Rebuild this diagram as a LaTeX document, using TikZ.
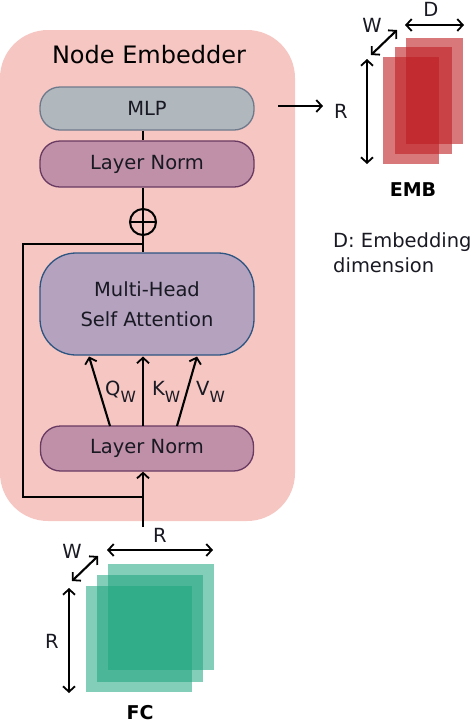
\documentclass[tikz,border=0pt]{standalone}
\usepackage{fontspec}
\setmainfont{DejaVu Sans}
\usetikzlibrary{arrows.meta}
\definecolor{pinkbg}{RGB}{246,198,194}
\definecolor{mlpfill}{RGB}{176,183,189}
\definecolor{mlpdraw}{RGB}{110,122,140}
\definecolor{lnfill}{RGB}{192,144,168}
\definecolor{lndraw}{RGB}{105,58,98}
\definecolor{attfill}{RGB}{180,162,190}
\definecolor{attdraw}{RGB}{45,85,130}
\definecolor{embred}{RGB}{190,30,35}
\definecolor{fcgreen}{RGB}{30,165,125}
\definecolor{txt}{RGB}{25,25,35}
\begin{document}
\begin{tikzpicture}[x=1pt,y=-1pt,
  lbl/.style={font=\fontsize{19.5}{23}\selectfont, text=txt, inner sep=0pt},
  box/.style={draw, line width=1.3pt, rounded corners=20pt, minimum width=214pt,
    font=\fontsize{19.5}{23}\selectfont, text=txt, inner sep=0pt},
  conn/.style={line width=2.1pt, black},
  arr/.style={conn, -{Straight Barb[length=5.5pt,width=12pt,line width=1.8pt]}},
  darr/.style={conn, {Straight Barb[length=5.5pt,width=12pt,line width=1.8pt]}-{Straight Barb[length=5.5pt,width=12pt,line width=1.8pt]}}]
\useasboundingbox (0,0) rectangle (474,724);

% background
\fill[pinkbg, rounded corners=48pt] (0,30) rectangle (295,521);
\node[font=\fontsize{24}{28}\selectfont, anchor=base, inner sep=0pt] (title) at (149,63) {Node Embedder};

% boxes
\node[box, fill=mlpfill, draw=mlpdraw, minimum height=43pt] (mlp) at (147,108.5) {MLP};
\node[box, fill=lnfill, draw=lndraw, minimum height=46pt] (ln1) at (147,164) {Layer Norm};
\node[box, fill=attfill, draw=attdraw, minimum height=102pt, rounded corners=36pt, align=center,
  font=\fontsize{19.5}{30}\selectfont] (mhsa) at (147,304) {Multi-Head\\Self Attention};
\node[box, fill=lnfill, draw=lndraw, minimum height=45pt, minimum width=213pt] (ln2) at (147,448.5) {Layer Norm};
\node[circle, draw, line width=2pt, minimum size=26pt, inner sep=0pt,
  path picture={\draw[line width=2pt] (path picture bounding box.west) -- (path picture bounding box.east);}] (plus) at (143,222) {};

% connectors
\draw[conn] (plus |- mlp.south) -- (plus |- ln1.north);
\draw[conn] (plus |- ln1.south) -- (plus.north);
\draw[conn] (plus.north) -- (plus.south);
\draw[conn] (plus.south) -- (plus |- mhsa.north);
\coordinate (in) at (143,527);
\coordinate (rb) at (143,497);
\coordinate (rt) at (143,244);
\draw[arr] (in) -- (plus |- ln2.south);
\draw[conn] (rb) -| (23,244) -- (rt);

% Q K V
\coordinate (q0) at (110,426); \coordinate (q1) at (89,356.5);
\coordinate (k0) at (143,426); \coordinate (k1) at (143,356.5);
\coordinate (v0) at (177,426); \coordinate (v1) at (197,356.5);
\draw[arr] (q0) -- (q1);
\draw[arr] (k0) -- (k1);
\draw[arr] (v0) -- (v1);
\node[lbl, anchor=west] (ql) at (105,392) {Q\raisebox{-0.35em}{\fontsize{15.5}{15}\selectfont W}};
\node[lbl, anchor=west] (kl) at (152,392) {K\raisebox{-0.35em}{\fontsize{15.5}{15}\selectfont W}};
\node[lbl, anchor=west] (vl) at (196,392) {V\raisebox{-0.35em}{\fontsize{15.5}{15}\selectfont W}};

% MLP output
\coordinate (o0) at (278,106);
\coordinate (o1) at (323,106);
\draw[arr] (o0) -- (o1);
\node[lbl, anchor=base] (rout) at (341,118) {R};

% EMB tensor
\fill[embred, fill opacity=0.6] (406,38) rectangle (463,144);
\fill[embred, fill opacity=0.6] (395,47) rectangle (452,154);
\fill[embred, fill opacity=0.6] (383,57) rectangle (439,164);
\coordinate (er0) at (367,59); \coordinate (er1) at (367,164);
\draw[darr] (er0) -- (er1);
\coordinate (ew0) at (371,55); \coordinate (ew1) at (397,30);
\draw[darr] (ew0) -- (ew1);
\node[lbl] (ewl) at (372,25) {W};
\coordinate (ed0) at (405,25); \coordinate (ed1) at (464,25);
\draw[darr] (ed0) -- (ed1);
\node[lbl] (edl) at (431,9) {D};
\node[font=\fontsize{19}{23}\selectfont\bfseries, inner sep=0pt] (emb) at (413,190) {EMB};
\node[font=\fontsize{19.5}{25}\selectfont, text=txt, align=left, anchor=north west, inner sep=0pt] (dnote) at (333,232) {D: Embedding\\dimension};

% FC tensor
\fill[fcgreen, fill opacity=0.55] (108,564) rectangle (214,670);
\fill[fcgreen, fill opacity=0.55] (97,575) rectangle (203,682);
\fill[fcgreen, fill opacity=0.55] (86,586) rectangle (192,692);
\coordinate (fr0) at (107,550); \coordinate (fr1) at (213,550);
\draw[darr] (fr0) -- (fr1);
\node[lbl] (frl) at (160,535) {R};
\coordinate (fw0) at (72,581); \coordinate (fw1) at (98,556);
\draw[darr] (fw0) -- (fw1);
\node[lbl] (fwl) at (72,551) {W};
\coordinate (fv0) at (69,588); \coordinate (fv1) at (69,693);
\draw[darr] (fv0) -- (fv1);
\node[lbl] (fvl) at (52,641) {R};
\node[font=\fontsize{19}{23}\selectfont\bfseries, anchor=base, inner sep=0pt] (fc) at (140,719) {FC};
\end{tikzpicture}
\end{document}
